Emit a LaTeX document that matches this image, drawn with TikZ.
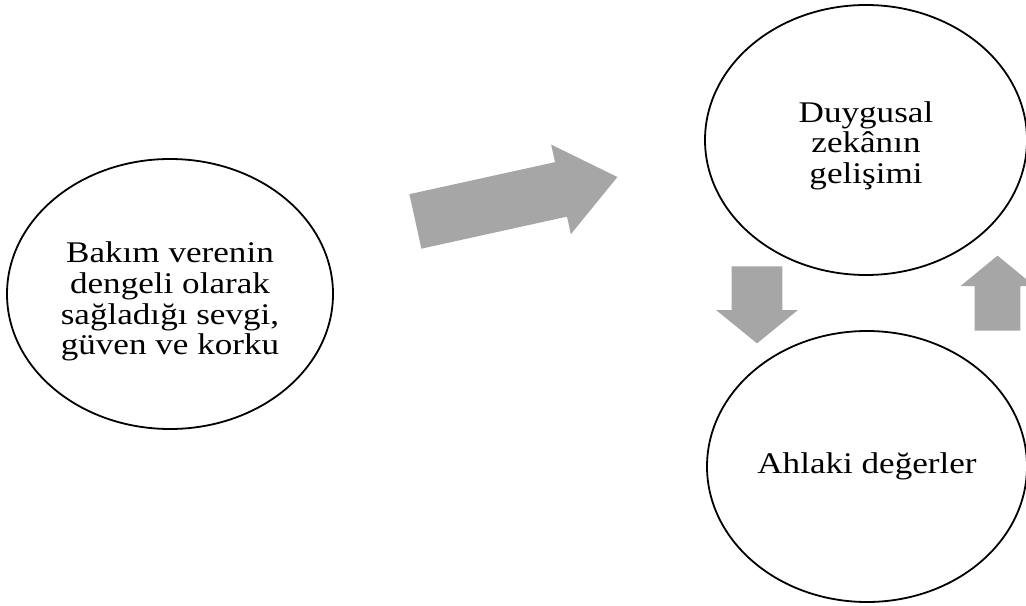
\documentclass[tikz,border=0pt]{standalone}
\usepackage{fontspec}
\setmainfont{Liberation Serif}[FakeStretch=1.17]
\usepackage{tikz}
\usetikzlibrary{shapes.geometric,shapes.arrows,positioning}
\definecolor{ArrowGray}{HTML}{A6A6A6}

\begin{document}
\begin{tikzpicture}[
  x=1pt,y=1pt,
  oval/.style={draw=black,line width=0.9pt,ellipse,inner sep=0pt,align=center,font=\fontsize{15}{15.3}\selectfont},
  blockarrow/.style={single arrow,fill=ArrowGray,draw=none,inner xsep=0pt,anchor=tail}
]
  \useasboundingbox (0,0) rectangle (513,302.5);

  \node[oval,minimum width=163pt,minimum height=135pt] (care) at (85,155.5) {\rule{0pt}{18pt}Bakım verenin\\dengeli olarak\\sağladığı sevgi,\\güven ve korku};
  \node[oval,minimum width=161pt,minimum height=135pt] (emo) at (433,232.5) {\rule{0pt}{16pt}Duygusal\\zekânın\\gelişimi};
  \node[oval,minimum width=160pt,minimum height=135.5pt] (moral) at (433.5,69.25) {Ahlaki değerler};

  % block arrows
  \node[blockarrow,rotate=12.4,inner ysep=13.75pt,minimum height=103.4pt,minimum width=45.5pt,single arrow head extend=9pt,single arrow tip angle=77] (careToEmo) at (207.5,191.75) {};
  \node[blockarrow,rotate=-90,inner ysep=12.5pt,minimum height=38.5pt,minimum width=40.5pt,single arrow head extend=7.75pt,single arrow tip angle=101.6] (emoToMoral) at (378.5,169.5) {};
  \node[blockarrow,rotate=90,inner ysep=11.25pt,minimum height=37.5pt,minimum width=36.5pt,single arrow head extend=7pt,single arrow tip angle=101] (moralToEmo) at (498.75,137) {};
\end{tikzpicture}
\end{document}
